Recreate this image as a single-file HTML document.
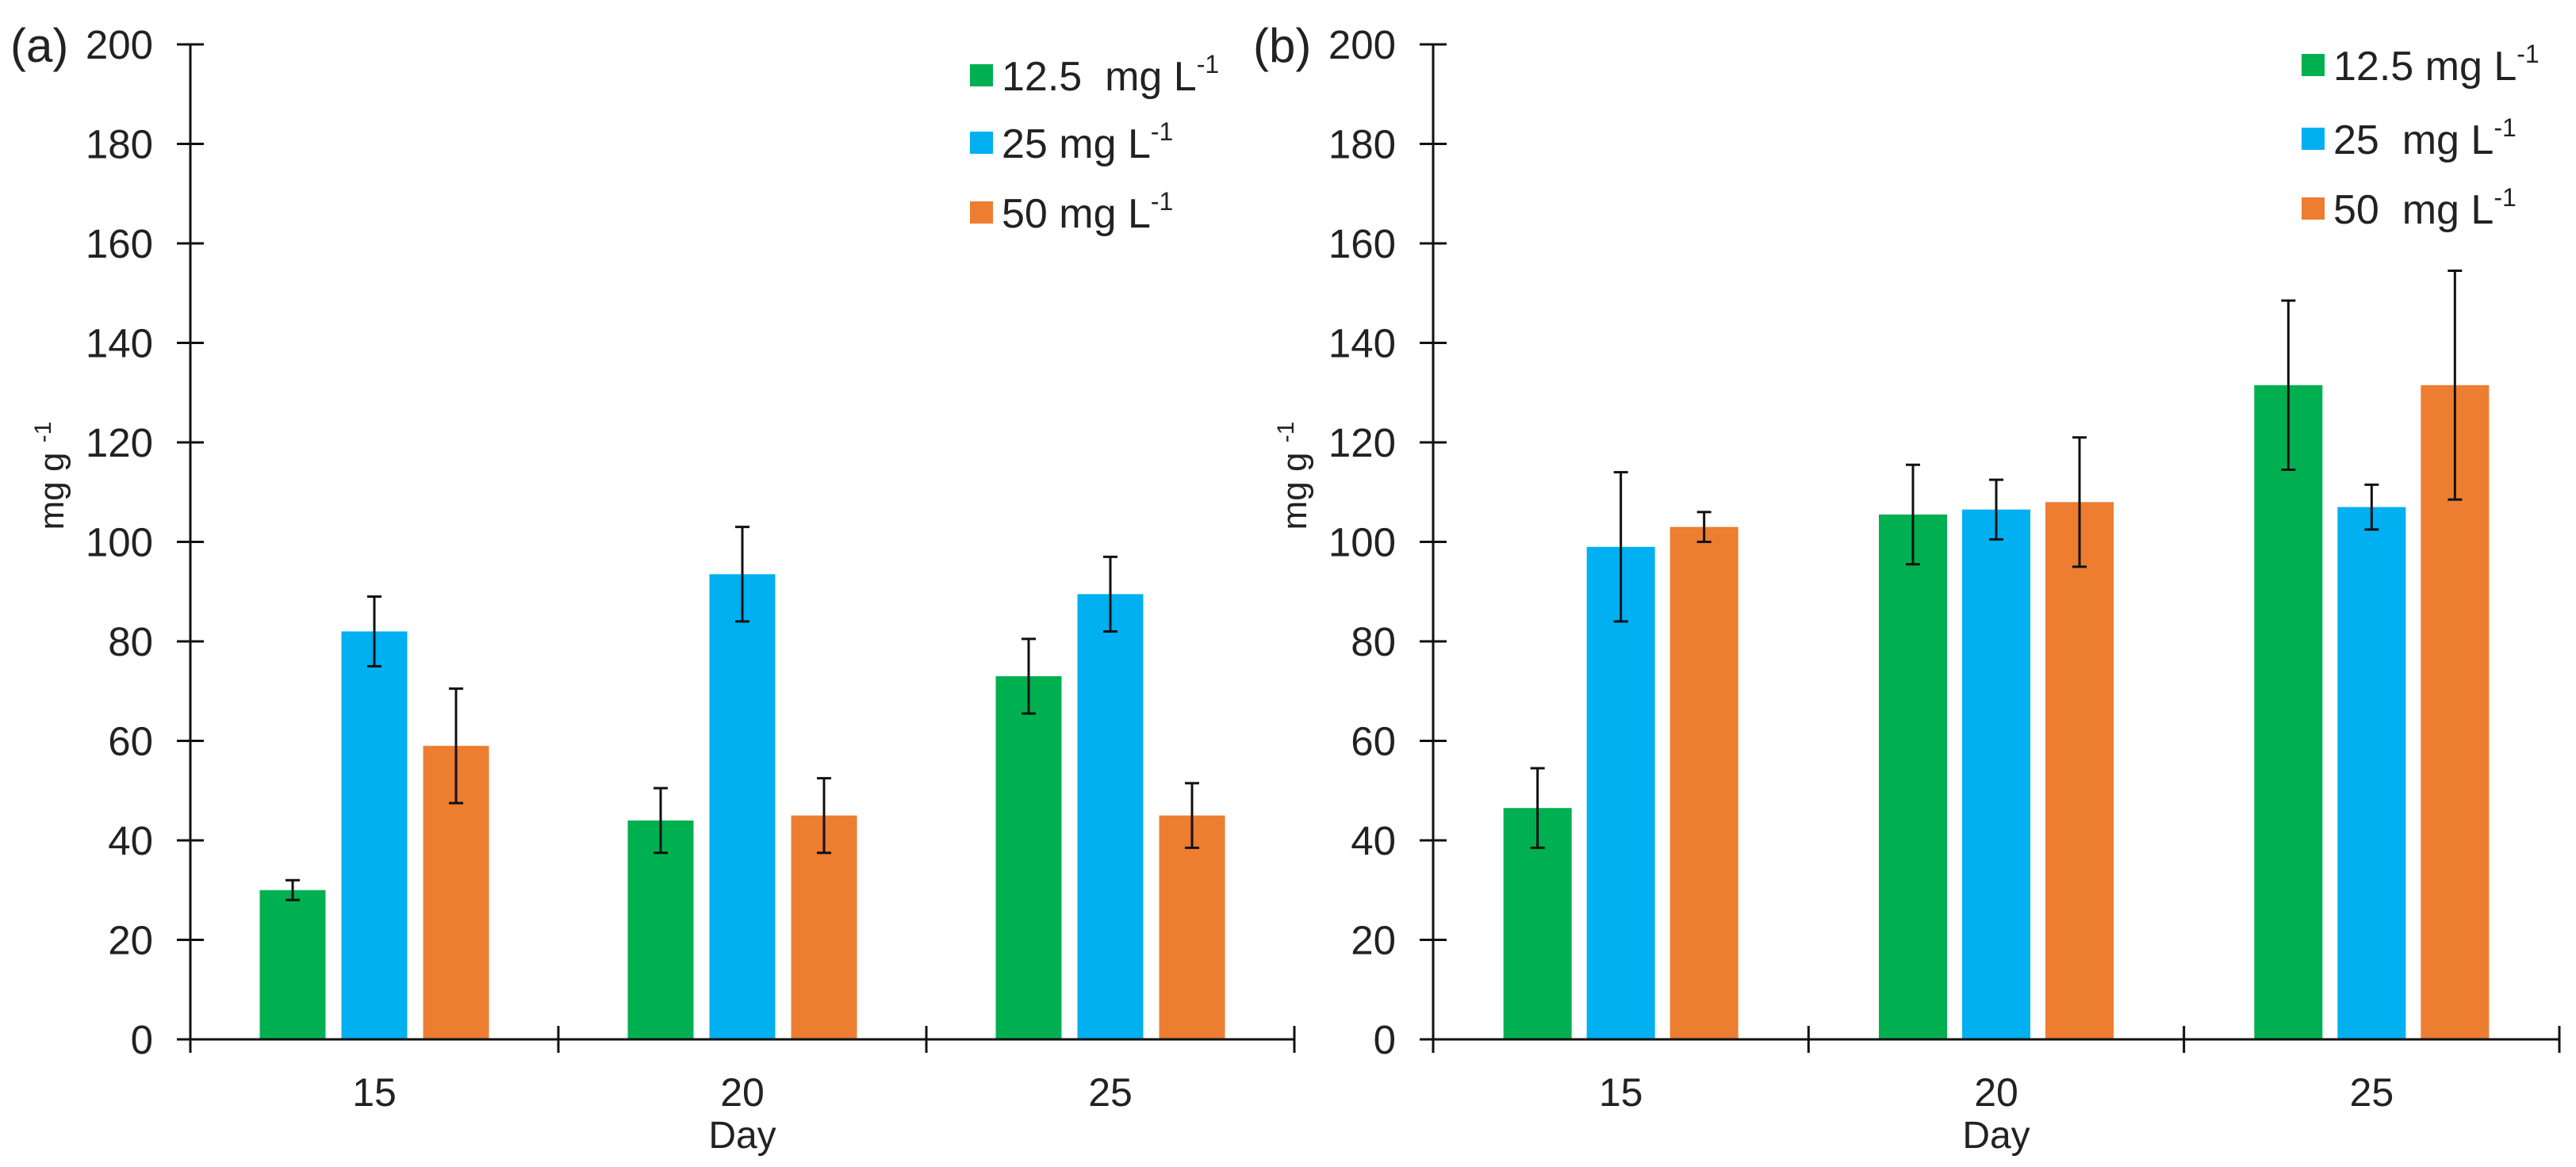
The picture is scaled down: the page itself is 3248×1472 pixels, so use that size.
<!DOCTYPE html>
<html><head><meta charset="utf-8"><style>
html,body{margin:0;padding:0;background:#fff;}
svg{display:block;font-family:"Liberation Sans",Arial,sans-serif;}
</style></head><body>
<svg id="chart" width="3248" height="1472" viewBox="0 0 3248 1472" xmlns="http://www.w3.org/2000/svg"></svg>
<script>
const categories = ["15","20","25"];
const seriesNames = ["12.5", "25", "50"];
const yTicks = [0,20,40,60,80,100,120,140,160,180,200];
const aGreen = [30, 44, 73];
const aBlue = [82, 93.5, 89.5];
const aOrange = [59, 45, 45];
const aGreenErr = [2, 6.5, 7.5];
const aBlueErr = [7, 9.5, 7.5];
const aOrangeErr = [11.5, 7.5, 6.5];
const bGreen = [46.5, 105.5, 131.5];
const bBlue = [99, 106.5, 107];
const bOrange = [103, 108, 131.5];
const bGreenErr = [8, 10, 17];
const bBlueErr = [15, 6, 4.5];
const bOrangeErr = [3, 13, 23];

const NS = "http://www.w3.org/2000/svg";
const svg = document.getElementById("chart");
const colors = ["#00b050", "#00b0f0", "#ed7d31"];
function mk(tag, attrs, parent){
  const e = document.createElementNS(NS, tag);
  for (const k in attrs) e.setAttribute(k, attrs[k]);
  (parent||svg).appendChild(e); return e;
}
function panel(id, x0, x1, label, vals, errs, legendX, legendYs, labelGapMono){
  const g = mk("g", {});
  
  
  const y0 = 1311, yTop = 56;
  const yS = v => y0 - (v/200)*(y0-yTop);
  const cw = (x1-x0)/categories.length;
  const xC = i => x0 + cw*(i+0.5);
  const bw = id==='a'?83:86, step = id==='a'?103:105;
  // bars
  vals.forEach((arr, s) => {
    arr.forEach((v, i) => {
      const cx = xC(i) + (s-1)*step;
      const r = mk("rect", {x: cx-bw/2, y: yS(v), width: bw, height: y0-yS(v), fill: colors[s]}, g);
      
      
      const e = errs[s][i];
      const eg = mk("g", {stroke:"#111", "stroke-width":3}, g);
      
      
      mk("line", {x1:cx, x2:cx, y1:yS(v+e), y2:yS(v-e)}, eg);
      mk("line", {x1:cx-9, x2:cx+9, y1:yS(v+e), y2:yS(v+e)}, eg);
      mk("line", {x1:cx-9, x2:cx+9, y1:yS(v-e), y2:yS(v-e)}, eg);
    });
  });
  // axes
  const ax = mk("g", {stroke:"#111", "stroke-width":3}, g);
  
  
  mk("line", {x1:x0, x2:x0, y1:yTop, y2:y0+17}, ax);
  mk("line", {x1:x0-17, x2:x1, y1:y0, y2:y0}, ax);
  yTicks.forEach(t => { mk("line", {x1:x0-17, x2:x0+17, y1:yS(t), y2:yS(t)}, ax); });
  for (let i=1;i<=categories.length;i++){ mk("line", {x1:x0+cw*i, x2:x0+cw*i, y1:y0-17, y2:y0+17}, ax); }
  yTicks.forEach(t => {
    const tx = mk("text", {x:x0-47, y:yS(t)+18, "text-anchor":"end", "font-size":51, fill:"#222"}, g);
    tx.textContent = t;
    
    
  });
  categories.forEach((c,i) => {
    const tx = mk("text", {x:xC(i), y:1395, "text-anchor":"middle", "font-size":50, fill:"#222"}, g);
    tx.textContent = c;
    
    
  });
  const xt = mk("text", {x:x0+cw*1.5, y:1448, "text-anchor":"middle", "font-size":48, fill:"#222"}, g);
  xt.textContent = "Day";
  
  
  const yt = mk("text", {x:0, y:0, "text-anchor":"middle", "font-size":44, fill:"#222", transform:`translate(${x0-160},600) rotate(-90)`}, g);
  yt.innerHTML = 'mg g <tspan dy="-16" font-size="30">-1</tspan>';
  
  
  const pl = mk("text", {x:x0-227, y:78, "font-size":60, fill:"#222"}, g);
  pl.textContent = label;
  
  
  // legend
  seriesNames.forEach((n, s) => {
    const lg = mk("g", {}, g);
    
    
    const yc = legendYs[s];
    mk("rect", {x:legendX, y:yc-14, width:29, height:28, fill:colors[s]}, lg);
    const tx = mk("text", {x:legendX+40, y:yc+19, "font-size":52, fill:"#222", textLength:0}, lg);
    tx.removeAttribute("textLength");
    tx.innerHTML = n + (labelGapMono[s]) + 'mg L<tspan dy="-22" font-size="32">-1</tspan>';
  });
}
panel('a', 240, 1632, '(a)', [aGreen,aBlue,aOrange], [aGreenErr,aBlueErr,aOrangeErr], 1223, [95,180,268], ["\u00a0 ","\u00a0","\u00a0"]);
panel('b', 1807, 3227, '(b)', [bGreen,bBlue,bOrange], [bGreenErr,bBlueErr,bOrangeErr], 2902, [82,175,263], ["\u00a0","\u00a0 ","\u00a0 "]);
</script>
</body></html>
